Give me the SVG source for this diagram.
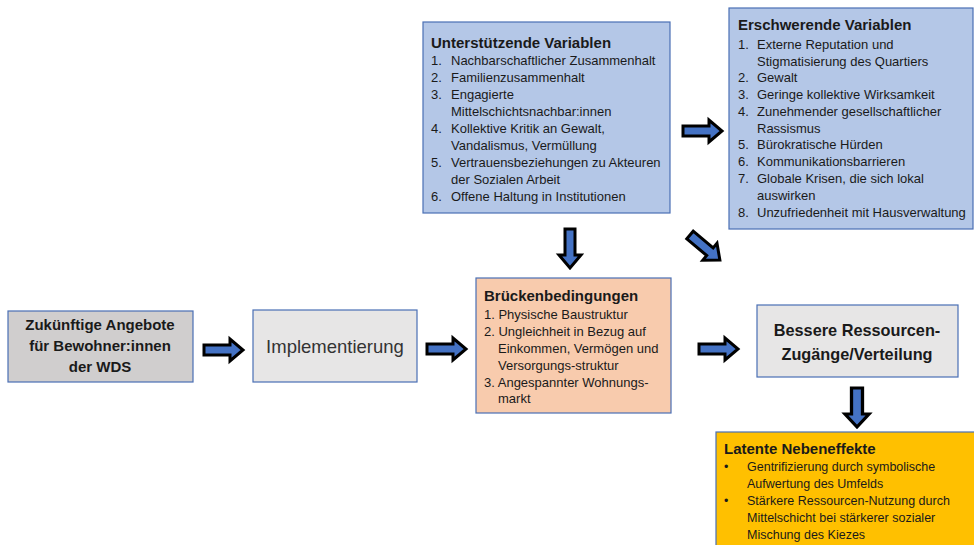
<svg xmlns="http://www.w3.org/2000/svg" xmlns:xlink="http://www.w3.org/1999/xlink" width="974" height="545" viewBox="0 0 974 545">
<style>
text{font-family:"Liberation Sans",Arial,sans-serif;fill:#1a1a1a}
.t{font-weight:bold;font-size:15px}
.i{font-size:13px}
.l{font-size:12.5px}
.box{stroke:#4a6fb5;stroke-width:1.2}
.blue{fill:#b4c7e7}
.arrow{fill:#4472c4;stroke:#000;stroke-width:3;stroke-linejoin:miter}
</style>
<defs>
<path id="arr" class="arrow" d="M0,-5 L26,-5 L26,-11 L39,0 L26,11 L26,5 L0,5 Z"/>
</defs>
<rect width="974" height="545" fill="#fff"/>
<g id="n-unterstuetzende">
<rect class="box blue" x="423" y="22" width="247" height="191"/>
<text class="t" x="431" y="48">Unterstützende Variablen</text>
<text class="i" x="431" y="65">1.</text><text class="i" x="451" y="65">Nachbarschaftlicher Zusammenhalt</text>
<text class="i" x="431" y="82">2.</text><text class="i" x="451" y="82">Familienzusammenhalt</text>
<text class="i" x="431" y="99">3.</text><text class="i" x="451" y="99">Engagierte</text>
<text class="i" x="451" y="116">Mittelschichtsnachbar:innen</text>
<text class="i" x="431" y="133">4.</text><text class="i" x="451" y="133">Kollektive Kritik an Gewalt,</text>
<text class="i" x="451" y="150">Vandalismus, Vermüllung</text>
<text class="i" x="431" y="167">5.</text><text class="i" x="451" y="167">Vertrauensbeziehungen zu Akteuren</text>
<text class="i" x="451" y="184">der Sozialen Arbeit</text>
<text class="i" x="431" y="201">6.</text><text class="i" x="451" y="201">Offene Haltung in Institutionen</text>
</g>
<g id="n-erschwerende">
<rect class="box blue" x="729" y="8" width="244" height="221"/>
<text class="t" x="738" y="30">Erschwerende Variablen</text>
<text class="i" x="738" y="49">1.</text><text class="i" x="757" y="49">Externe Reputation und</text>
<text class="i" x="757" y="66">Stigmatisierung des Quartiers</text>
<text class="i" x="738" y="82">2.</text><text class="i" x="757" y="82">Gewalt</text>
<text class="i" x="738" y="99">3.</text><text class="i" x="757" y="99">Geringe kollektive Wirksamkeit</text>
<text class="i" x="738" y="116">4.</text><text class="i" x="757" y="116">Zunehmender gesellschaftlicher</text>
<text class="i" x="757" y="133">Rassismus</text>
<text class="i" x="738" y="149">5.</text><text class="i" x="757" y="149">Bürokratische Hürden</text>
<text class="i" x="738" y="166">6.</text><text class="i" x="757" y="166">Kommunikationsbarrieren</text>
<text class="i" x="738" y="183">7.</text><text class="i" x="757" y="183">Globale Krisen, die sich lokal</text>
<text class="i" x="757" y="200">auswirken</text>
<text class="i" x="738" y="217">8.</text><text class="i" x="757" y="217">Unzufriedenheit mit Hausverwaltung</text>
</g>
<g id="n-zukuenftige">
<rect class="box" x="8" y="311" width="185" height="71" fill="#d0cece"/>
<text class="t" x="100" y="330" text-anchor="middle">Zukünftige Angebote</text>
<text class="t" x="100" y="351" text-anchor="middle">für Bewohner:innen</text>
<text class="t" x="100" y="372" text-anchor="middle">der WDS</text>
</g>
<g id="n-implementierung">
<rect class="box" x="253" y="310" width="164" height="72" fill="#e7e6e6"/>
<text x="335" y="353" text-anchor="middle" font-size="18.5" style="fill:#333">Implementierung</text>
</g>
<g id="n-bruecken">
<rect class="box" x="476" y="278" width="195" height="135" fill="#f8cbad"/>
<text class="t" x="484" y="301">Brückenbedingungen</text>
<text class="i" x="484" y="319">1. Physische Baustruktur</text>
<text class="i" x="484" y="336">2. Ungleichheit in Bezug auf</text>
<text class="i" x="498" y="353">Einkommen, Vermögen und</text>
<text class="i" x="498" y="370">Versorgungs-struktur</text>
<text class="i" x="484" y="387">3. Angespannter Wohnungs-</text>
<text class="i" x="498" y="403">markt</text>
</g>
<g id="n-bessere">
<rect class="box" x="757" y="305" width="201" height="72" fill="#e7e6e6"/>
<text x="857" y="336" text-anchor="middle" font-size="16.3" font-weight="bold">Bessere Ressourcen-</text>
<text x="857" y="360" text-anchor="middle" font-size="16.3" font-weight="bold">Zugänge/Verteilung</text>
</g>
<g id="n-latente">
<rect x="716" y="432" width="260" height="115" fill="#ffc000" stroke="#4a6fb5" stroke-width="1.2"/>
<text class="t" x="724" y="454">Latente Nebeneffekte</text>
<text class="l" x="724" y="471">•</text><text class="l" x="747" y="471">Gentrifizierung durch symbolische</text>
<text class="l" x="747" y="488">Aufwertung des Umfelds</text>
<text class="l" x="724" y="505">•</text><text class="l" x="747" y="505">Stärkere Ressourcen-Nutzung durch</text>
<text class="l" x="747" y="522">Mittelschicht bei stärkerer sozialer</text>
<text class="l" x="747" y="539">Mischung des Kiezes</text>
</g>
<g id="connectors">
<use xlink:href="#arr" transform="translate(204,350)"/>
<use xlink:href="#arr" transform="translate(427,349)"/>
<use xlink:href="#arr" transform="translate(699,349)"/>
<use xlink:href="#arr" transform="translate(683,131)"/>
<use xlink:href="#arr" transform="translate(570,229) rotate(90)"/>
<use xlink:href="#arr" transform="translate(857,388) rotate(90) scale(1,1.1)"/>
<use xlink:href="#arr" transform="translate(690,235) rotate(40)"/>
</g>
</svg>
